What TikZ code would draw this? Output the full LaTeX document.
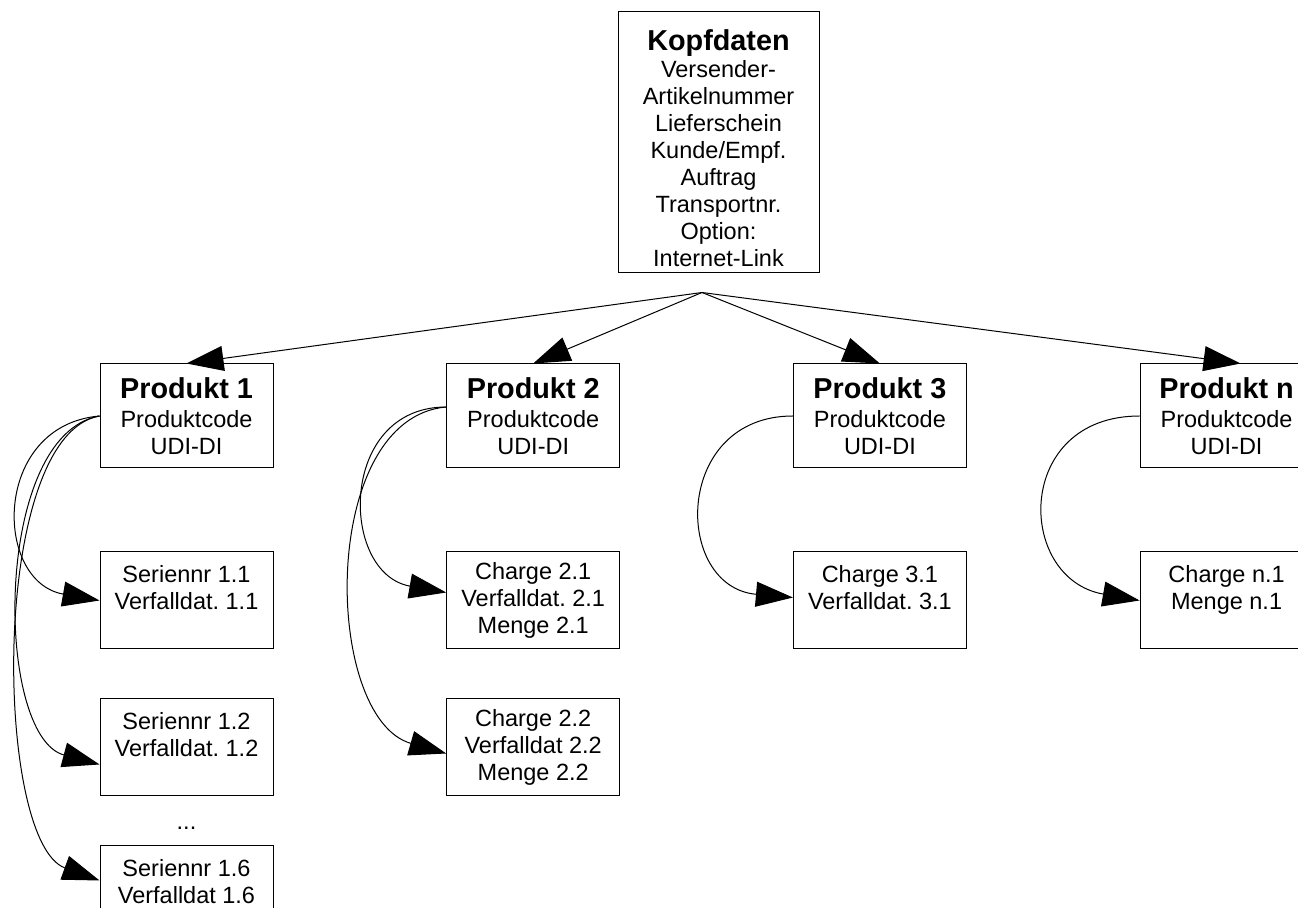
\documentclass[tikz,border=0pt]{standalone}
\usepackage{fontspec}
\setmainfont{Liberation Sans}
\usetikzlibrary{positioning,arrows.meta}
\frenchspacing
\newcommand{\Titel}[1]{{\bfseries\fontsize{14.4pt}{16pt}\selectfont #1}}

\begin{document}
\begin{tikzpicture}[
		font=\fontsize{11.75pt}{13.5pt}\selectfont,
		line width=0.5pt,
		box/.style={draw, align=center, minimum width=86.5pt, inner sep=2pt},
		head/.style={box, minimum height=52pt},
		item/.style={box, minimum height=48.5pt},
		link/.style={-{Triangle[length=18.5pt,width=12.5pt]}}]
	\useasboundingbox (0,0) rectangle (649pt,-454pt);
	% Kopf
	\node(Kopfdaten)	[box, minimum width=100.5pt, minimum height=130.5pt] at (359.25pt,-71.25pt)
		{\rule{0pt}{16pt}\Titel{Kopfdaten}\\ Versender-\\ Artikelnummer\\ Lieferschein\\ Kunde/Empf.\\ Auftrag\\ Transportnr.\\ Option:\\ Internet-Link};
	\coordinate(Hub) at ([xshift=-8.25pt,yshift=-9.5pt]Kopfdaten.south);
	% Produkte
	\node(Produkt1)	[head] at (93.25pt,-208pt)		{\Titel{Produkt 1}\\[1pt] Produktcode\\ UDI-DI};
	\node(Produkt2)	[head, right=86.35pt of Produkt1]	{\Titel{Produkt 2}\\[1pt] Produktcode\\ UDI-DI};
	\node(Produkt3)	[head, right=86.35pt of Produkt2]	{\Titel{Produkt 3}\\[1pt] Produktcode\\ UDI-DI};
	\node(ProduktN)	[head, right=86.35pt of Produkt3]	{\Titel{Produkt n}\\[1pt] Produktcode\\ UDI-DI};
	% Einheiten
	\node(Serie11)	[item, below=41.5pt of Produkt1]	{Seriennr 1.1\\ Verfalldat. 1.1\\ ~};
	\node(Serie12)	[item, below=24.5pt of Serie11]	{Seriennr 1.2\\ Verfalldat. 1.2\\ ~};
	\node(Serie16)	[item, below=24.5pt of Serie12]	{Seriennr 1.6\\ Verfalldat 1.6\\ ~};
	\node(Dots)		[inner sep=0pt, below=7pt of Serie12]	{\strut...};
	\node(Charge21)	[item, below=41.5pt of Produkt2]	{Charge 2.1\\ Verfalldat. 2.1\\ Menge 2.1};
	\node(Charge22)	[item, below=24.5pt of Charge21]	{Charge 2.2\\ Verfalldat 2.2\\ Menge 2.2};
	\node(Charge31)	[item, below=41.5pt of Produkt3]	{Charge 3.1\\ Verfalldat. 3.1\\ ~};
	\node(ChargeN1)	[item, below=41.5pt of ProduktN]	{Charge n.1\\ Menge n.1\\ ~};
	% Pfeile
	\draw[link] (Hub) -- (Produkt1.north);
	\draw[link] (Hub) -- (Produkt2.north);
	\draw[link] (Hub) -- (Produkt3.north);
	\draw[link] (Hub) -- ([xshift=7pt]ProduktN.north);
	\draw[link] (Produkt1.west) to[out=185,in=170,looseness=1.5] (Serie11.west);
	\draw[link] (Produkt1.west) to[out=190,in=165,looseness=0.8] ([yshift=-8.5pt]Serie12.west);
	\draw[link] (Produkt1.west) to[out=190,in=160,looseness=0.62] ([yshift=7pt]Serie16.west);
	\draw[link] ([yshift=4.5pt]Produkt2.west) to[out=180,in=170,looseness=1.5] ([yshift=4pt]Charge21.west);
	\draw[link] ([yshift=4.5pt]Produkt2.west) to[out=185,in=164,looseness=0.95] ([yshift=-3pt]Charge22.west);
	\draw[link] (Produkt3.west) to[out=180,in=175,looseness=1.7] ([yshift=1.5pt]Charge31.west);
	\draw[link] (ProduktN.west) to[out=180,in=170,looseness=1.75] (ChargeN1.west);
\end{tikzpicture}
\end{document}
